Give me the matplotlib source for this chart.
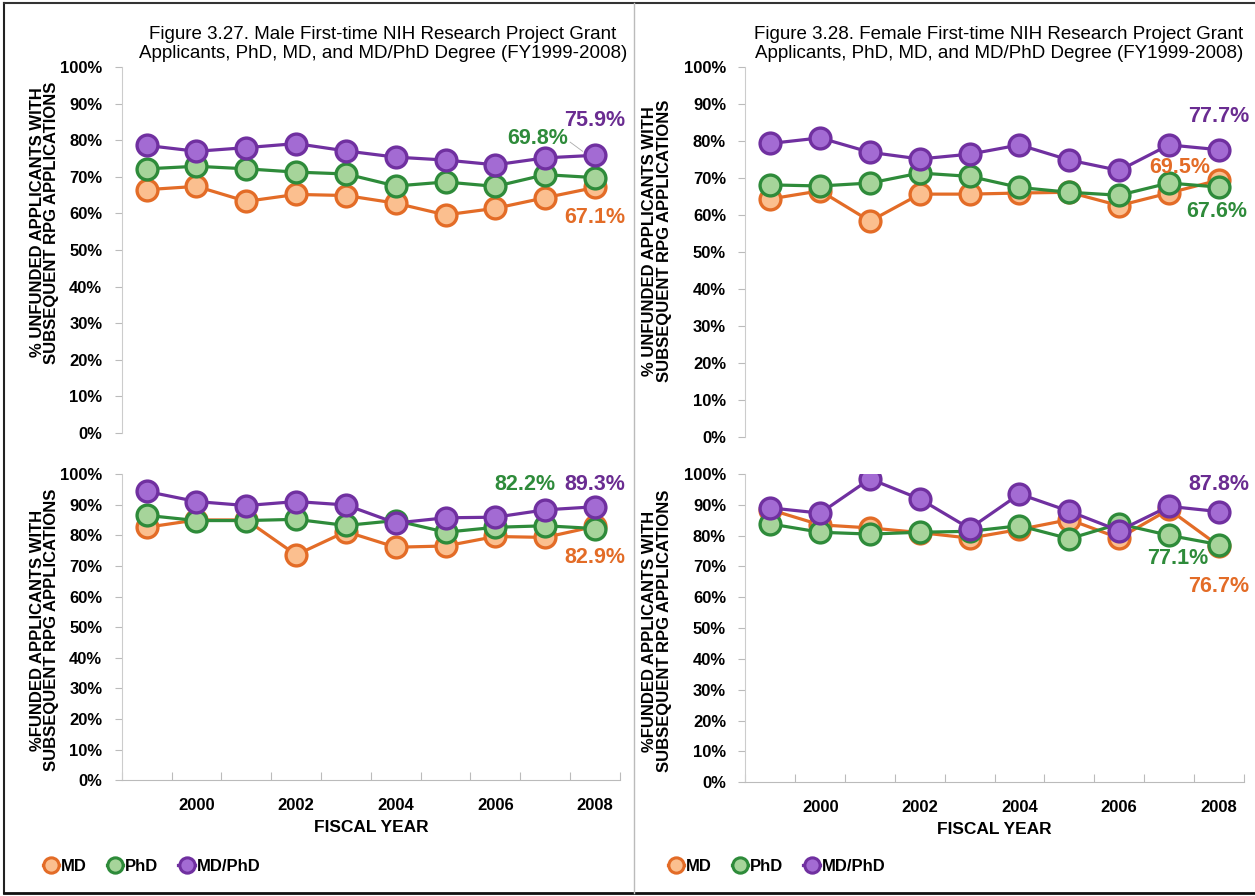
import numpy as np
import matplotlib
matplotlib.use("Agg")
import matplotlib.pyplot as plt
from matplotlib.lines import Line2D

plt.rcParams['font.family'] = ['Liberation Sans', 'DejaVu Sans']

years = [1999, 2000, 2001, 2002, 2003, 2004, 2005, 2006, 2007, 2008]
year_labels = ['2000', '2002', '2004', '2006', '2008']
series_names = ['MD', 'PhD', 'MD/PhD']

# male, unfunded applicants with subsequent applications
male_unfunded_md = [66.5, 67.4, 63.3, 65.2, 64.9, 62.8, 59.6, 61.4, 64.3, 67.1]
male_unfunded_phd = [72.2, 72.9, 72.2, 71.3, 70.8, 67.5, 68.6, 67.4, 70.6, 69.8]
male_unfunded_mdphd = [78.6, 77.0, 78.0, 79.1, 77.1, 75.4, 74.6, 73.3, 75.2, 75.9]

# male, funded
male_funded_md = [82.6, 85.0, 85.0, 73.6, 81.2, 76.1, 76.5, 79.6, 79.3, 82.9]
male_funded_phd = [86.5, 84.8, 84.8, 85.2, 83.2, 84.8, 81.0, 82.6, 83.1, 82.2]
male_funded_mdphd = [94.3, 91.0, 89.7, 91.0, 89.9, 84.0, 85.7, 85.9, 88.3, 89.3]

# female, unfunded
female_unfunded_md = [64.4, 66.6, 58.4, 65.7, 65.7, 66.0, 66.2, 62.6, 66.0, 69.5]
female_unfunded_phd = [68.2, 67.9, 68.7, 71.4, 70.5, 67.5, 66.2, 65.4, 68.7, 67.6]
female_unfunded_mdphd = [79.4, 80.9, 77.0, 75.2, 76.5, 79.0, 74.9, 72.1, 79.0, 77.7]

# female, funded
female_funded_md = [88.4, 83.5, 82.5, 81.0, 79.2, 82.0, 85.2, 79.2, 88.5, 76.7]
female_funded_phd = [83.8, 81.1, 80.5, 81.1, 81.4, 83.2, 79.0, 83.8, 80.1, 77.1]
female_funded_mdphd = [89.0, 87.3, 98.4, 91.9, 82.3, 93.5, 87.9, 81.6, 89.5, 87.8]

line_colors = ['#E36C27', '#2E8B3A', '#7030A0']
fill_colors = ['#FBBF8F', '#A6D49A', '#A36BD3']
label_colors = ['#E36C27', '#2E8B3A', '#6A2C91']

title_left = ('Figure 3.27. Male First-time NIH Research Project Grant\n'
              'Applicants, PhD, MD, and MD/PhD Degree (FY1999-2008)')
title_right = ('Figure 3.28. Female First-time NIH Research Project Grant\n'
               'Applicants, PhD, MD, and MD/PhD Degree (FY1999-2008)')
ylabel_top = '% UNFUNDED APPLICANTS WITH\nSUBSEQUENT RPG APPLICATIONS'
ylabel_bottom = '%FUNDED APPLICANTS WITH\nSUBSEQUENT RPG APPLICATIONS'


def draw_panel(ax, data, bottom_axis, ylabel, label_xy):
    x = np.arange(len(years))
    for vals, lc, fc in zip(data, line_colors, fill_colors):
        ax.plot(x, vals, '-o', color=lc, lw=2.3, markersize=15,
                markerfacecolor=fc, markeredgecolor=lc, markeredgewidth=2.4)
    ax.set_xlim(-0.5, len(years) - 0.5)
    ax.set_ylim(0, 100)
    ax.set_yticks(np.arange(0, 101, 10))
    ax.set_yticklabels([f'{v}%' for v in range(0, 101, 10)], fontsize=12, fontweight='bold')
    ax.tick_params(axis='y', length=5, color='#BBBBBB', pad=9)
    for s in ['top', 'right']:
        ax.spines[s].set_visible(False)
    ax.spines['left'].set_color('#CCCCCC')
    ax.spines['bottom'].set_color('#BBBBBB')
    ax.set_ylabel(ylabel, fontsize=12, fontweight='bold', linespacing=0.95)
    ax.yaxis.set_label_coords(*label_xy)
    if bottom_axis:
        ax.set_xticks(np.arange(-0.5, len(years), 1.0))
        ax.set_xticklabels([])
        ax.tick_params(axis='x', which='major', length=6, direction='in', color='#BBBBBB')
        ax.set_xticks(np.arange(1, len(years), 2), minor=True)
        ax.set_xticklabels(year_labels, minor=True, fontsize=12, fontweight='bold')
        ax.tick_params(axis='x', which='minor', length=0, pad=13)
        ax.set_xlabel('FISCAL YEAR', fontsize=12.5, fontweight='bold', labelpad=5)
    else:
        ax.spines['bottom'].set_visible(False)
        ax.set_xticks([])


def end_label(ax, x, y, text, color, leader=None):
    ax.text(x, y, text, color=color, fontsize=15.5, fontweight='bold',
            ha='center', va='center', clip_on=False)
    if leader is not None:
        ax.plot(leader[0], leader[1], color='#AAAAAA', lw=0.6, clip_on=False)


fig = plt.figure(figsize=(12.55, 8.96), dpi=100)

ax1 = fig.add_axes([0.097, 0.517, 0.397, 0.408])
ax2 = fig.add_axes([0.097, 0.129, 0.397, 0.342])
ax3 = fig.add_axes([0.594, 0.512, 0.397, 0.413])
ax4 = fig.add_axes([0.594, 0.127, 0.397, 0.344])

draw_panel(ax1, [male_unfunded_md, male_unfunded_phd, male_unfunded_mdphd], False,
           ylabel_top, (-0.125, 0.575))
draw_panel(ax2, [male_funded_md, male_funded_phd, male_funded_mdphd], True,
           ylabel_bottom, (-0.125, 0.49))
draw_panel(ax3, [female_unfunded_md, female_unfunded_phd, female_unfunded_mdphd], False,
           ylabel_top, (-0.148, 0.53))
draw_panel(ax4, [female_funded_md, female_funded_phd, female_funded_mdphd], True,
           ylabel_bottom, (-0.148, 0.49))

# end-of-series labels
end_label(ax1, 9.0, 85.5, f'{male_unfunded_mdphd[-1]}%', label_colors[2])
end_label(ax1, 7.85, 80.5, f'{male_unfunded_phd[-1]}%', label_colors[1],
          leader=([8.5, 8.75], [79.5, 77.0]))
end_label(ax1, 9.0, 59.0, f'{male_unfunded_md[-1]}%', label_colors[0])

end_label(ax2, 7.6, 96.5, f'{male_funded_phd[-1]}%', label_colors[1])
end_label(ax2, 9.0, 96.5, f'{male_funded_mdphd[-1]}%', label_colors[2])
end_label(ax2, 9.0, 72.8, f'{male_funded_md[-1]}%', label_colors[0])

end_label(ax3, 9.0, 86.6, f'{female_unfunded_mdphd[-1]}%', label_colors[2])
end_label(ax3, 8.22, 73.0, f'{female_unfunded_md[-1]}%', label_colors[0])
end_label(ax3, 8.95, 61.1, f'{female_unfunded_phd[-1]}%', label_colors[1])

end_label(ax4, 9.0, 96.5, f'{female_funded_mdphd[-1]}%', label_colors[2])
end_label(ax4, 8.18, 72.7, f'{female_funded_phd[-1]}%', label_colors[1])
end_label(ax4, 9.0, 63.5, f'{female_funded_md[-1]}%', label_colors[0])

fig.text(0.305, 0.951, title_left, ha='center', va='center', fontsize=13.5, linespacing=1.15)
fig.text(0.796, 0.951, title_right, ha='center', va='center', fontsize=13.5, linespacing=1.15)

# legends
handles = [Line2D([0], [0], color=lc, lw=2.3, marker='o', markersize=11,
                  markerfacecolor=fc, markeredgecolor=lc, markeredgewidth=2.2)
           for lc, fc in zip(line_colors, fill_colors)]
for lx in [0.022, 0.520]:
    fig.legend(handles, series_names, loc='center left', bbox_to_anchor=(lx, 0.033),
               ncol=3, frameon=False, handlelength=1.0, handletextpad=0.1,
               columnspacing=1.2, prop={'size': 12, 'weight': 'bold'})

# frame around the page and divider between the two figures
fig.add_artist(Line2D([0.003, 0.003], [0.003, 0.997], color='#222222', lw=1.5))
fig.add_artist(Line2D([0.003, 1.0], [0.997, 0.997], color='#333333', lw=1.5))
fig.add_artist(Line2D([0.003, 1.0], [0.003, 0.003], color='#111111', lw=2))
fig.add_artist(Line2D([0.505, 0.505], [0.003, 0.997], color='#BBBBBB', lw=1))

fig.savefig('out.png', dpi=100, facecolor='white')
